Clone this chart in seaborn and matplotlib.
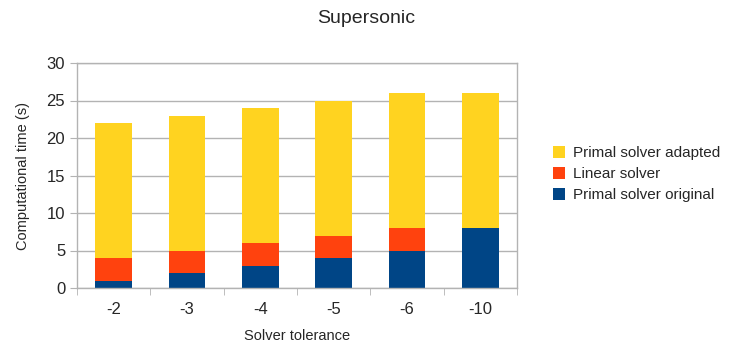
import matplotlib
matplotlib.use('Agg')
import matplotlib.pyplot as plt
import seaborn as sns
import pandas as pd
import numpy as np

# data
tolerance = ['-2', '-3', '-4', '-5', '-6', '-10']
primal_original = [1, 2, 3, 4, 5, 8]
linear_solver = [3, 3, 3, 3, 3, 0]
primal_adapted = [18, 18, 18, 18, 18, 18]

df = pd.DataFrame({'tol': tolerance,
                   'orig': primal_original,
                   'lin': linear_solver,
                   'adapt': primal_adapted})
df['lin_top'] = df['orig'] + df['lin']
df['adapt_top'] = df['lin_top'] + df['adapt']

sns.set_style('white')
plt.rcParams['font.family'] = ['Liberation Sans', 'DejaVu Sans']

fig = plt.figure(figsize=(7.29, 3.48), dpi=100)
ax = fig.add_axes([77 / 729, 60 / 348, 440 / 729, 225 / 348])

# stacked bars: draw cumulative totals, tallest first
sns.barplot(data=df, x='tol', y='adapt_top', order=tolerance, color='#FFD320',
            width=0.5, saturation=1, linewidth=0, ax=ax, label='Primal solver adapted')
sns.barplot(data=df, x='tol', y='lin_top', order=tolerance, color='#FF420E',
            width=0.5, saturation=1, linewidth=0, ax=ax, label='Linear solver')
sns.barplot(data=df, x='tol', y='orig', order=tolerance, color='#004586',
            width=0.5, saturation=1, linewidth=0, ax=ax, label='Primal solver original')

ax.set_ylim(0, 30)
ax.set_yticks(np.arange(0, 31, 5))
ax.set_xlim(-0.5, len(tolerance) - 0.5)
ax.yaxis.grid(True, color='#b3b3b3', linewidth=1)
ax.set_axisbelow(True)
for s in ax.spines.values():
    s.set_color('#b3b3b3')
    s.set_linewidth(1)

# tick marks between categories
ax.set_xticks(np.arange(-0.5, len(tolerance), 1), minor=True)
ax.tick_params(axis='x', which='major', length=0, labelsize=12, pad=10)
ax.tick_params(axis='x', which='minor', length=5, color='#b3b3b3', direction='out', bottom=True)
ax.tick_params(axis='y', length=5, color='#b3b3b3', direction='out', left=True, labelsize=12)

ax.set_xlabel('Solver tolerance', fontsize=10.5, labelpad=9)
ax.set_ylabel('Computational time (s)', fontsize=10.5, labelpad=12)
fig.suptitle('Supersonic', fontsize=14, x=0.502, y=0.97)

handles, labels = ax.get_legend_handles_labels()
ax.legend(handles, labels, loc='center left', bbox_to_anchor=(1.05, 0.505),
          frameon=False, fontsize=11, handlelength=0.8, handleheight=0.8,
          handletextpad=0.5, labelspacing=0.45)

fig.savefig('out.png', dpi=100)
